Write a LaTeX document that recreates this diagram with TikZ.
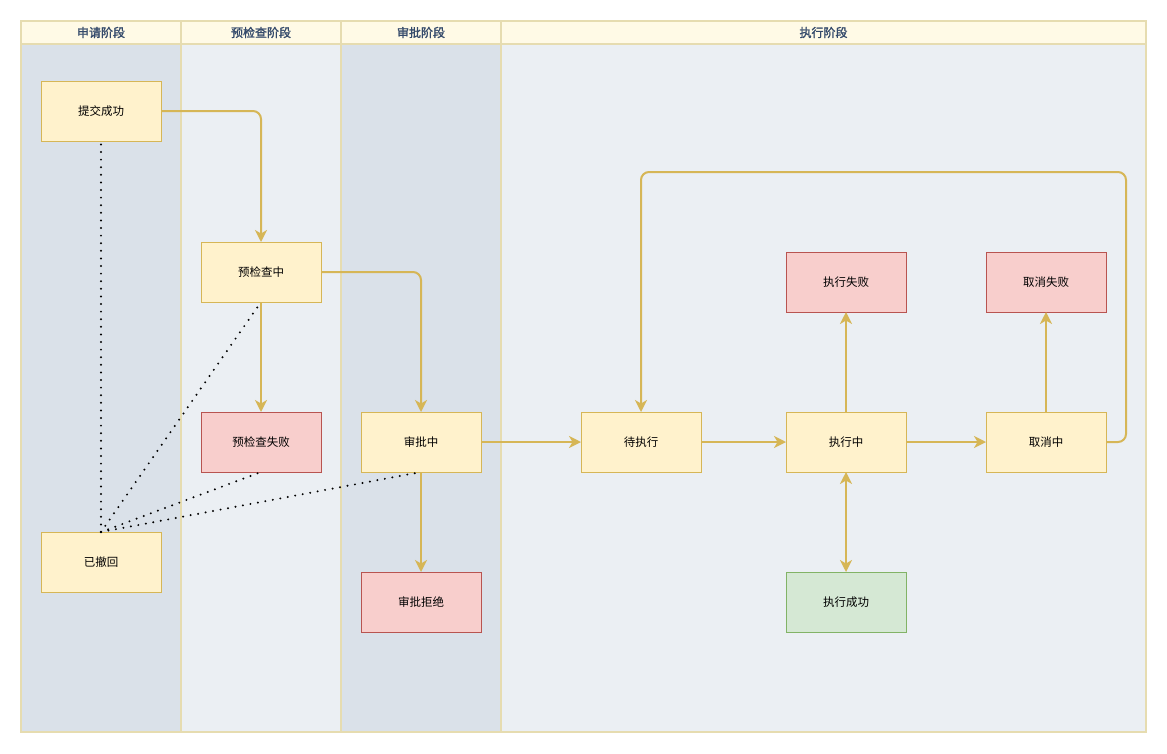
\documentclass[tikz,border=0pt]{standalone}
\usepackage{fontspec}
\setmainfont{Noto Sans CJK SC}[AutoFakeBold=1.6]
\usetikzlibrary{arrows.meta}
\definecolor{hdrfill}{HTML}{FFFAE6}
\definecolor{lanedark}{HTML}{DAE1E9}
\definecolor{lanelight}{HTML}{EBEFF3}
\definecolor{laneline}{HTML}{E6DCB0}
\definecolor{hdrtext}{HTML}{33496A}
\definecolor{ylfill}{HTML}{FFF2CC}
\definecolor{ylline}{HTML}{D6B656}
\definecolor{rdfill}{HTML}{F8CECC}
\definecolor{rdline}{HTML}{B85450}
\definecolor{grfill}{HTML}{D5E8D4}
\definecolor{grline}{HTML}{82B366}
\tikzset{
  state/.style={draw=ylline, fill=ylfill, line width=1pt, minimum width=120pt, minimum height=60pt, inner sep=0pt, outer sep=0pt, font=\fontsize{11.5}{12}\selectfont},
  fail/.style={state, draw=rdline, fill=rdfill},
  okay/.style={state, draw=grline, fill=grfill},
  flow/.style={draw=ylline, line width=2pt, rounded corners=8pt, -{Stealth[length=12pt,width=12pt,inset=3.5pt]}},
  dotline/.style={draw=black, line width=2.2pt, line cap=round, dash pattern=on 0pt off 7.6pt},
  hdr/.style={font=\fontsize{12}{13}\selectfont\bfseries, text=hdrtext},
  lanebox/.style={draw=laneline, line width=1.3pt},
}
\begin{document}
\begin{tikzpicture}[x=1pt,y=-1pt]
\useasboundingbox[fill=white] (0,0) rectangle (1167,753);
% lanes
\fill[lanedark] (21,44) rectangle (181,732);
\fill[lanelight] (181,44) rectangle (341,732);
\fill[lanedark] (341,44) rectangle (501,732);
\fill[lanelight] (501,44) rectangle (1146,732);
\fill[hdrfill] (21,21) rectangle (1146,44);
\draw[lanebox] (21,21) rectangle (181,732);
\draw[lanebox] (181,21) rectangle (341,732);
\draw[lanebox] (341,21) rectangle (501,732);
\draw[lanebox] (501,21) rectangle (1146,732);
\draw[lanebox] (21,44) -- (1146,44);
\node[hdr] (h1) at (101,32.5) {申请阶段};
\node[hdr] (h2) at (261,32.5) {预检查阶段};
\node[hdr] (h3) at (421,32.5) {审批阶段};
\node[hdr] (h4) at (823.5,32.5) {执行阶段};
% states
\node[state] (s1) at (101,111) {提交成功};
\node[state] (s2) at (261,272) {预检查中};
\node[fail]  (s3) at (261,442) {预检查失败};
\node[state] (s4) at (101,562) {已撤回};
\node[state] (s5) at (421,442) {审批中};
\node[fail]  (s6) at (421,602) {审批拒绝};
\node[state] (s7) at (641,442) {待执行};
\node[state] (s8) at (846,442) {执行中};
\node[state] (s9) at (1046,442) {取消中};
\node[fail]  (s10) at (846,282) {执行失败};
\node[fail]  (s11) at (1046,282) {取消失败};
\node[okay]  (s12) at (846,602) {执行成功};
% flows
\draw[flow] (s1.east) -| (s2.north);
\draw[flow] (s2.east) -| (s5.north);
\draw[flow] (s2.south) -- (s3.north);
\draw[flow] (s5.south) -- (s6.north);
\draw[flow] (s5.east) -- (s7.west);
\draw[flow] (s7.east) -- (s8.west);
\draw[flow] (s8.east) -- (s9.west);
\draw[flow] (s8.north) -- (s10.south);
\draw[flow] (s9.north) -- (s11.south);
\draw[flow, {Stealth[length=12pt,width=12pt,inset=3.5pt]}-{Stealth[length=12pt,width=12pt,inset=3.5pt]}] (s8.south) -- (s12.north);
\draw[flow] (s9.east) -- ++(20,0) -- ++(0,-270) -| (s7.north);
% withdraw dotted links
\draw[dotline] (s4.north) -- (s1.south);
\draw[dotline] (s4.north) -- (s2.south);
\draw[dotline] (s4.north) -- (s3.south);
\draw[dotline] (s4.north) -- (s5.south);
\end{tikzpicture}
\end{document}
